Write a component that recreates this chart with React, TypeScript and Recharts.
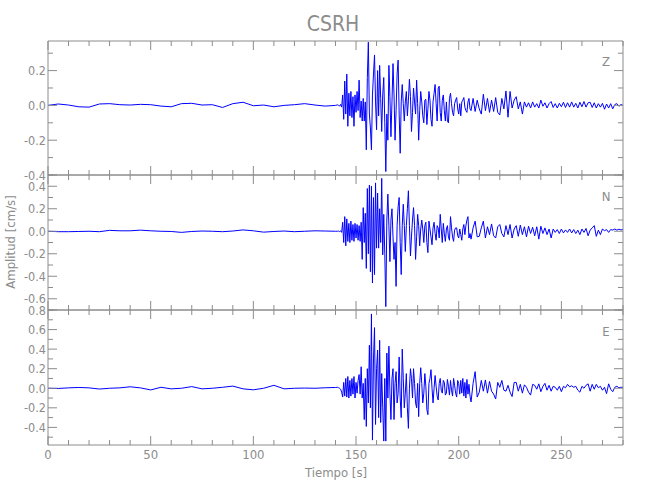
import { LineChart, Line, XAxis, YAxis } from "recharts";

// muestreo de cada tramo del registro (s)
const PASO_PRE = 5;
const INICIO_FUERTE = 141;
const PASO_FUERTE = 0.5;
const INICIO_CODA = 206;
const PASO_CODA = 1;

// componente Z (cm/s)
const zPre = [
  0.0, 0.008, 0.002, -0.008, -0.01, 0.008, 0.01, 0.004, 0.002, 0.006,
  0.004, -0.004, -0.008, 0.01, 0.012, 0.002, 0.004, -0.012, 0.01, 0.018,
  -0.002, 0.002, -0.008, 0.0, 0.004, 0.01, 0.002, -0.004, 0.0,
];
const zFuerte = [
  0.003, 0.0, -0.004, 0.006, -0.01, 0.06, -0.08, 0.14, -0.05, 0.18,
  -0.12, 0.07, -0.06, 0.08, -0.07, 0.05, -0.12, 0.06, -0.04, 0.08,
  -0.03, 0.145, -0.07, 0.025, -0.09, 0.04, -0.09, 0.02, -0.255, 0.16,
  0.363, -0.05, -0.13, -0.255, 0.06, 0.18, 0.29, 0.02, -0.14, 0.2,
  -0.06, 0.23, 0.04, -0.15, 0.06, 0.16, -0.1, -0.38, -0.05, -0.2,
  0.23, 0.05, -0.18, 0.02, 0.24, 0.06, -0.2, -0.03, 0.18, 0.26,
  -0.05, -0.275, 0.02, 0.12, 0.01, -0.09, 0.02, 0.08, -0.06, 0.03,
  0.15, 0.05, -0.15, -0.04, 0.1, 0.02, -0.05, 0.145, 0.01, -0.2,
  -0.03, 0.08, 0.02, -0.06, -0.1, 0.03, 0.035, -0.11, -0.02, 0.08,
  0.03, -0.08, -0.12, 0.02, 0.07, 0.12, 0.01, -0.09, 0.1, 0.11,
  -0.04, -0.09, 0.03, 0.06, -0.03, -0.09, 0.02, -0.09, -0.1, 0.04,
  0.07, 0.01, -0.04, -0.06, 0.01, 0.03, 0.045, -0.02, -0.05, 0.01,
  -0.06, 0.02, 0.03, 0.045, -0.01, -0.03, -0.04, 0.02, 0.04, -0.02,
];
const zCoda = [
  -0.03, 0.04, -0.035, 0.03, -0.02, -0.05, 0.064, -0.03, 0.04, -0.04,
  0.03, -0.035, 0.045, -0.04, -0.055, 0.04, -0.02, 0.083, -0.068, 0.08,
  -0.015, 0.03, 0.05, -0.02, 0.02, -0.05, 0.02, -0.01, 0.015, -0.015,
  0.02, -0.01, 0.01, -0.015, 0.03, -0.005, 0.015, -0.015, 0.01, 0.022,
  -0.012, 0.01, -0.015, 0.012, -0.008, 0.018, -0.012, 0.015, -0.01, 0.02,
  -0.01, 0.012, -0.015, 0.018, -0.008, 0.022, -0.01, 0.015, 0.018, -0.012,
  0.015, -0.015, 0.01, -0.01, 0.012, -0.022, 0.008, -0.015, 0.01, -0.02,
  0.005, 0.01, -0.005, 0.005, 0.0,
];

// componente N (cm/s)
const nPre = [
  0.0, -0.004, -0.004, -0.002, 0.0, -0.004, 0.008, 0.004, 0.004, 0.01,
  0.004, 0.0, -0.002, -0.01, -0.002, 0.002, 0.0, -0.004, 0.002, 0.012,
  0.004, -0.008, -0.002, 0.002, -0.004, 0.0, 0.004, 0.002, 0.0,
];
const nFuerte = [
  0.0, 0.002, -0.003, 0.004, -0.01, 0.08, -0.1, 0.13, -0.13, 0.11,
  -0.09, 0.07, -0.1, 0.09, -0.08, 0.06, -0.09, 0.07, -0.06, 0.06,
  -0.08, 0.05, -0.09, 0.08, -0.25, 0.21, -0.1, 0.16, -0.33, 0.38,
  -0.2, 0.41, -0.36, 0.4, -0.46, 0.3, -0.385, 0.43, -0.15, 0.34,
  -0.15, 0.2, -0.1, 0.47, -0.21, 0.15, -0.2, -0.67, 0.1, 0.33,
  0.05, -0.27, 0.1, 0.2, -0.05, -0.25, -0.1, -0.49, 0.05, 0.22,
  0.3, -0.1, -0.385, 0.05, 0.24, 0.05, -0.18, 0.05, 0.2, 0.36,
  0.05, -0.22, -0.05, 0.1, 0.21, 0.05, -0.25, -0.05, 0.15, 0.05,
  -0.13, 0.02, 0.1, 0.02, -0.1, 0.05, 0.08, -0.1, -0.19, 0.09,
  0.02, -0.05, -0.12, 0.03, 0.08, -0.02, -0.08, 0.05, 0.03, -0.06,
  0.15, 0.02, -0.1, 0.07, -0.02, -0.09, 0.02, 0.05, -0.05, -0.08,
  0.13, 0.03, -0.05, -0.09, 0.01, 0.03, 0.03, -0.04, -0.06, 0.02,
  -0.03, -0.08, 0.02, 0.06, -0.03, 0.05, 0.1, 0.13, -0.06, -0.02,
];
const nCoda = [
  -0.07, 0.03, 0.09, -0.05, -0.045, 0.03, 0.09, -0.06, 0.04, -0.03,
  0.065, -0.04, -0.06, 0.04, 0.06, -0.02, -0.05, 0.05, -0.03, 0.06,
  -0.06, 0.02, 0.05, -0.045, 0.055, -0.03, 0.04, -0.05, 0.045, -0.02,
  0.035, -0.04, 0.04, -0.07, 0.045, -0.02, 0.03, -0.03, 0.02, -0.06,
  0.02, -0.01, 0.015, -0.02, 0.02, -0.015, 0.012, -0.01, 0.02, -0.015,
  0.015, -0.02, 0.01, -0.03, 0.02, -0.01, 0.025, -0.04, 0.01, 0.03,
  0.05, -0.045, 0.01, -0.03, 0.02, 0.005, 0.015, -0.01, 0.015, 0.01,
  0.02, 0.01, 0.018, 0.012, 0.015,
];

// componente E (cm/s)
const ePre = [
  0.0, -0.002, 0.004, 0.008, 0.004, -0.008, 0.0, 0.004, 0.015, 0.004,
  -0.017, 0.01, -0.006, 0.0, 0.017, -0.006, 0.0, 0.01, 0.022, -0.006,
  -0.016, 0.0, 0.03, -0.006, 0.0, 0.002, 0.0, 0.005, 0.008,
];
const eFuerte = [
  0.01, 0.005, 0.0, -0.01, -0.04, -0.09, 0.06, -0.08, 0.1, -0.09,
  0.12, -0.1, 0.08, -0.08, 0.1, -0.06, 0.12, -0.1, 0.06, -0.05,
  0.08, 0.14, -0.06, 0.22, -0.1, 0.05, -0.32, 0.1, -0.39, 0.2,
  -0.15, 0.44, -0.2, 0.76, -0.53, 0.3, 0.62, -0.37, 0.2, 0.39,
  -0.3, 0.49, -0.35, 0.15, -0.2, -0.54, 0.1, -0.54, 0.36, -0.1,
  0.43, -0.05, -0.32, 0.1, 0.2, -0.32, 0.05, 0.17, -0.15, -0.05,
  0.32, -0.1, -0.3, 0.4, 0.1, -0.2, -0.05, 0.15, -0.2, -0.41,
  0.0, 0.2, 0.1, -0.1, 0.2, 0.05, -0.15, -0.2, 0.05, -0.29,
  0.05, 0.21, 0.05, -0.15, -0.05, 0.15, 0.02, -0.22, -0.27, 0.05,
  0.1, 0.19, 0.0, -0.15, 0.0, 0.13, 0.02, -0.08, -0.12, 0.05,
  0.1, -0.02, -0.05, 0.08, 0.06, -0.07, -0.05, 0.09, 0.02, -0.07,
  0.08, -0.02, -0.08, 0.1, 0.03, -0.05, -0.09, 0.08, 0.05, -0.06,
  0.08, -0.05, 0.1, -0.08, 0.06, -0.1, 0.09, -0.06, 0.04, -0.08,
];
const eCoda = [
  -0.14, 0.05, 0.17, -0.09, -0.04, 0.08, -0.03, 0.085, -0.05, 0.07,
  -0.03, -0.06, -0.11, 0.06, 0.01, 0.08, -0.02, -0.03, 0.03, -0.04,
  -0.085, 0.06, 0.06, -0.03, 0.04, -0.05, 0.035, 0.01, -0.04, -0.07,
  0.04, 0.03, -0.01, 0.045, -0.035, 0.02, 0.05, -0.02, 0.03, -0.03,
  0.02, 0.01, -0.02, 0.02, -0.035, 0.02, 0.005, 0.04, 0.015, 0.025,
  0.01, 0.02, -0.02, -0.04, 0.02, 0.0, 0.03, 0.045, -0.03, 0.04,
  -0.01, 0.04, 0.005, 0.02, -0.02, 0.01, -0.055, 0.045, -0.01, -0.035,
  0.01, 0.02, 0.005, 0.01, 0.01,
];

const TICKS_X = [
  0, 10, 20, 30, 40, 50, 60, 70, 80, 90, 100, 110, 120, 130, 140,
  150, 160, 170, 180, 190, 200, 210, 220, 230, 240, 250, 260, 270, 280,
];
const TICKS_Z = [-0.4, -0.3, -0.2, -0.1, 0, 0.1, 0.2, 0.3];
const TICKS_N = [-0.7, -0.6, -0.5, -0.4, -0.3, -0.2, -0.1, 0, 0.1, 0.2, 0.3, 0.4, 0.5];
const TICKS_E = [-0.5, -0.4, -0.3, -0.2, -0.1, 0, 0.1, 0.2, 0.3, 0.4, 0.5, 0.6, 0.7, 0.8];

const GRIS = "#8c8c8c";
const FUENTE = "'Liberation Sans Narrow', 'DejaVu Sans Condensed', sans-serif";

const construir = (pre: number[], fuerte: number[], coda: number[]) => {
  const puntos: { t: number; v: number }[] = [];
  pre.forEach((v, i) => puntos.push({ t: i * PASO_PRE, v }));
  fuerte.forEach((v, i) => puntos.push({ t: INICIO_FUERTE + i * PASO_FUERTE, v }));
  coda.forEach((v, i) => puntos.push({ t: INICIO_CODA + i * PASO_CODA, v }));
  return puntos;
};

const MarcaX = ({ x, y, payload, arriba, rotular }: any) => {
  const mayor = payload.value % 50 === 0;
  const largo = mayor ? 9 : 5;
  return (
    <g>
      <line x1={x} x2={x} y1={y} y2={arriba ? y + largo : y - largo} stroke={GRIS} />
      {rotular && mayor ? (
        <text x={x} y={y + 14} textAnchor="middle" fill={GRIS} fontSize={13} fontFamily={FUENTE}>
          {payload.value}
        </text>
      ) : null}
    </g>
  );
};

const MarcaY = ({ x, y, payload, derecha }: any) => {
  const mayor = Math.abs(Math.round(payload.value * 10)) % 2 === 0;
  const largo = mayor ? 9 : 5;
  return (
    <g>
      <line x1={x} x2={derecha ? x - largo : x + largo} y1={y} y2={y} stroke={GRIS} />
      {!derecha && mayor ? (
        <text x={x - 2} y={y + 4.5} textAnchor="end" fill={GRIS} fontSize={12.5} fontFamily={FUENTE}>
          {payload.value.toFixed(1)}
        </text>
      ) : null}
    </g>
  );
};

type PanelProps = {
  datos: { t: number; v: number }[];
  dominio: [number, number];
  ticksY: number[];
  arriba: number;
  abajo: number;
  rotularX?: boolean;
};

const Panel = ({ datos, dominio, ticksY, arriba, abajo, rotularX }: PanelProps) => (
  <div style={{ position: "absolute", left: 0, top: 0 }}>
    <LineChart width={650} height={500} data={datos} margin={{ top: 0, right: 0, bottom: 0, left: 0 }}>
      <XAxis
        xAxisId="abajo"
        dataKey="t"
        type="number"
        orientation="bottom"
        domain={[0, 280]}
        allowDataOverflow
        ticks={TICKS_X}
        interval={0}
        height={500 - abajo}
        tickSize={0}
        tickMargin={0}
        tickLine={false}
        axisLine={{ stroke: GRIS }}
        tick={(p: any) => <MarcaX {...p} rotular={rotularX} />}
      />
      <XAxis
        xAxisId="arriba"
        dataKey="t"
        type="number"
        orientation="top"
        domain={[0, 280]}
        allowDataOverflow
        ticks={TICKS_X}
        interval={0}
        height={arriba}
        tickSize={0}
        tickMargin={0}
        tickLine={false}
        axisLine={{ stroke: GRIS }}
        tick={(p: any) => <MarcaX {...p} arriba />}
      />
      <YAxis
        yAxisId="izq"
        type="number"
        domain={dominio}
        allowDataOverflow
        ticks={ticksY}
        interval={0}
        width={48}
        tickSize={0}
        tickMargin={0}
        tickLine={false}
        axisLine={{ stroke: GRIS }}
        tick={(p: any) => <MarcaY {...p} />}
      />
      <YAxis
        yAxisId="der"
        orientation="right"
        type="number"
        domain={dominio}
        allowDataOverflow
        ticks={ticksY}
        interval={0}
        width={27}
        tickSize={0}
        tickMargin={0}
        tickLine={false}
        axisLine={{ stroke: GRIS }}
        tick={(p: any) => <MarcaY {...p} derecha />}
      />
      <Line
        xAxisId="abajo"
        yAxisId="izq"
        type="linear"
        dataKey="v"
        stroke="#0000ff"
        strokeWidth={1}
        dot={false}
        isAnimationActive={false}
      />
    </LineChart>
  </div>
);

const App = () => (
  <div style={{ position: "fixed", left: 0, top: 0, width: 650, height: 500, background: "#fff" }}>
    <Panel datos={construir(zPre, zFuerte, zCoda)} dominio={[-0.4, 0.37]} ticksY={TICKS_Z} arriba={41} abajo={175} />
    <Panel datos={construir(nPre, nFuerte, nCoda)} dominio={[-0.7, 0.5]} ticksY={TICKS_N} arriba={175} abajo={310} />
    <Panel datos={construir(ePre, eFuerte, eCoda)} dominio={[-0.58, 0.8]} ticksY={TICKS_E} arriba={310} abajo={445} rotularX />
    <svg width={650} height={500} style={{ position: "absolute", left: 0, top: 0, pointerEvents: "none" }}>
      <text x={333} y={31} textAnchor="middle" fill={GRIS} fontSize={21} fontFamily={FUENTE}>
        CSRH
      </text>
      <text
        x={0}
        y={0}
        transform="translate(15 242) rotate(-90)"
        textAnchor="middle"
        fill={GRIS}
        fontSize={13}
        fontFamily={FUENTE}
      >
        Amplitud [cm/s]
      </text>
      <text x={336} y={477} textAnchor="middle" fill={GRIS} fontSize={13} fontFamily={FUENTE}>
        Tiempo [s]
      </text>
      <text x={606} y={66} textAnchor="middle" fill={GRIS} fontSize={13} fontFamily={FUENTE}>
        Z
      </text>
      <text x={606} y={201} textAnchor="middle" fill={GRIS} fontSize={13} fontFamily={FUENTE}>
        N
      </text>
      <text x={606} y={336} textAnchor="middle" fill={GRIS} fontSize={13} fontFamily={FUENTE}>
        E
      </text>
    </svg>
  </div>
);

export default App;
